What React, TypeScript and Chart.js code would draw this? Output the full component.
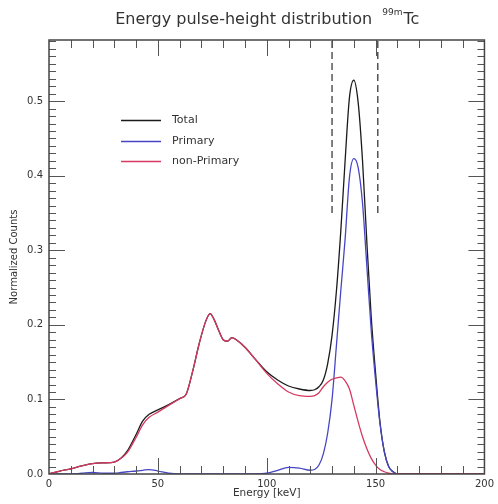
import React, { useEffect, useRef } from "react";
import { Chart, registerables } from "chart.js";

Chart.register(...registerables);

// ---- data ----
const energies = [
  0, 5, 10, 15, 20, 25, 30, 33, 36, 40, 43, 46, 50, 55, 60, 63, 66, 69, 72, 74,
  76, 78, 80, 82, 84, 86, 90, 95, 100, 105, 110, 115, 120, 122, 124, 126, 128,
  130, 132, 134, 136, 138, 140, 142, 144, 146, 148, 150, 152, 154, 156, 158,
  160, 170, 180, 190, 200,
];
const totalCounts = [
  0.0, 0.004, 0.007, 0.011, 0.014, 0.015, 0.016, 0.021, 0.031, 0.053, 0.071,
  0.08, 0.086, 0.093, 0.101, 0.107, 0.138, 0.175, 0.205, 0.215, 0.206, 0.192,
  0.18, 0.178, 0.183, 0.18, 0.17, 0.153, 0.137, 0.126, 0.118, 0.114, 0.112,
  0.113, 0.117, 0.126, 0.148, 0.186, 0.245, 0.325, 0.42, 0.505, 0.528, 0.498,
  0.42, 0.31, 0.21, 0.135, 0.07, 0.03, 0.01, 0.003, 0.0, 0.0, 0.0, 0.0, 0.0,
];
const primaryCounts = [
  0.0, 0.0, 0.0, 0.001, 0.002, 0.001, 0.001, 0.002, 0.003, 0.004, 0.005, 0.006,
  0.004, 0.001, 0.0, 0.0, 0.0, 0.0, 0.0, 0.0, 0.0, 0.0, 0.0, 0.0, 0.0, 0.0,
  0.0, 0.0, 0.001, 0.005, 0.009, 0.008, 0.005, 0.006, 0.012, 0.027, 0.055, 0.1,
  0.172, 0.245, 0.315, 0.398, 0.423, 0.411, 0.363, 0.278, 0.192, 0.125, 0.068,
  0.03, 0.01, 0.003, 0.0, 0.0, 0.0, 0.0, 0.0,
];
const nonPrimaryCounts = [
  0.0, 0.004, 0.007, 0.011, 0.014, 0.015, 0.016, 0.021, 0.029, 0.049, 0.066,
  0.076, 0.083, 0.092, 0.101, 0.107, 0.138, 0.175, 0.205, 0.215, 0.206, 0.192,
  0.18, 0.178, 0.183, 0.18, 0.17, 0.153, 0.135, 0.121, 0.11, 0.105, 0.104,
  0.105, 0.109, 0.117, 0.123, 0.127, 0.129, 0.13, 0.125, 0.114, 0.092, 0.07,
  0.05, 0.034, 0.021, 0.012, 0.006, 0.003, 0.001, 0.0, 0.0, 0.0, 0.0, 0.0, 0.0,
];
const windowEdges = [130, 151];
const windowRange = [0.35, 0.582];
const seriesLabels = ["Total", "Primary", "non-Primary"];
const seriesColors = ["#1a1a1a", "#4646c4", "#d63a62"];
const xRange = [0, 200];
const yRange = [0, 0.582];

const FONT = '"DejaVu Sans", "Bitstream Vera Sans", sans-serif';

const decorPlugin = {
  id: "decor",
  afterDraw(chart: any) {
    const { ctx, chartArea, scales } = chart;
    const { left, right, top, bottom } = chartArea;
    const xs = scales.x;
    const ys = scales.y;
    ctx.save();
    // ticks
    ctx.strokeStyle = "#555";
    ctx.lineWidth = 1;
    ctx.beginPath();
    for (let i = 1; i < 20; i++) {
      const v = i * 10;
      const px = Math.round(xs.getPixelForValue(v)) + 0.5;
      const len = v % 50 === 0 ? 16 : 8;
      ctx.moveTo(px, bottom);
      ctx.lineTo(px, bottom - len);
      ctx.moveTo(px, top);
      ctx.lineTo(px, top + len);
    }
    for (let i = 1; i <= 58; i++) {
      const py = Math.round(ys.getPixelForValue(i / 100)) + 0.5;
      const len = i % 10 === 0 ? 16 : 7;
      ctx.moveTo(left, py);
      ctx.lineTo(left + len, py);
      ctx.moveTo(right, py);
      ctx.lineTo(right - len, py);
    }
    ctx.stroke();
    // frame
    ctx.strokeStyle = "#444";
    ctx.lineWidth = 1.5;
    ctx.strokeRect(left, top, right - left, bottom - top);

    // title with superscript
    const cx = (left + right) / 2;
    const main = "Energy pulse-height distribution";
    const sup = "99m";
    const tail = "Tc";
    const gap = 10;
    ctx.fillStyle = "#333";
    ctx.textBaseline = "alphabetic";
    ctx.textAlign = "left";
    ctx.font = `16px ${FONT}`;
    const wMain = ctx.measureText(main).width;
    const wTail = ctx.measureText(tail).width;
    ctx.font = `9px ${FONT}`;
    const wSup = ctx.measureText(sup).width;
    const x0 = cx - (wMain + gap + wSup + wTail) / 2;
    ctx.font = `16px ${FONT}`;
    ctx.fillText(main, x0, 24);
    ctx.font = `9px ${FONT}`;
    ctx.fillText(sup, x0 + wMain + gap, 15);
    ctx.font = `16px ${FONT}`;
    ctx.fillText(tail, x0 + wMain + gap + wSup + 1, 24);

    // legend
    const ly = [120, 141, 161];
    ctx.font = `11px ${FONT}`;
    ctx.textBaseline = "middle";
    seriesLabels.forEach((lab, i) => {
      ctx.strokeStyle = seriesColors[i];
      ctx.lineWidth = 1.3;
      ctx.beginPath();
      ctx.moveTo(121, ly[i] + 0.5);
      ctx.lineTo(161, ly[i] + 0.5);
      ctx.stroke();
      ctx.fillStyle = "#333";
      ctx.fillText(lab, 172, ly[i]);
    });
    ctx.restore();
  },
};

export default function App() {
  const ref = useRef<HTMLCanvasElement | null>(null);
  useEffect(() => {
    if (!ref.current) return;
    const mk = (vals: number[]) => energies.map((e, i) => ({ x: e, y: vals[i] }));
    const lineDs = (i: number, vals: number[], order: number) => ({
      label: seriesLabels[i],
      data: mk(vals),
      borderColor: seriesColors[i],
      backgroundColor: seriesColors[i],
      borderWidth: 1.3,
      pointRadius: 0,
      cubicInterpolationMode: "monotone",
      fill: false,
      order,
    });
    const chart = new Chart(ref.current, {
      type: "line",
      data: {
        datasets: [
          lineDs(0, totalCounts, 3),
          lineDs(1, primaryCounts, 2),
          lineDs(2, nonPrimaryCounts, 1),
          ...windowEdges.map((e) => ({
            label: "window",
            data: windowRange.map((v) => ({ x: e, y: v })),
            borderColor: "#555",
            borderWidth: 1.5,
            borderDash: [7, 4],
            pointRadius: 0,
            fill: false,
            order: 4,
          })),
        ],
      } as any,
      options: {
        animation: false,
        responsive: false,
        layout: { padding: { top: 40, right: 11, left: 0, bottom: 0 } },
        plugins: { legend: { display: false }, tooltip: { enabled: false }, title: { display: false } },
        scales: {
          x: {
            type: "linear",
            min: xRange[0],
            max: xRange[1],
            grid: { display: false, drawTicks: false },
            border: { display: false },
            ticks: {
              stepSize: 50,
              padding: 4,
              maxRotation: 0,
              color: "#333",
              font: { family: FONT, size: 10 },
            },
            title: {
              display: true,
              text: "Energy [keV]",
              color: "#333",
              font: { family: FONT, size: 10.5 },
              padding: { top: 0, bottom: 4 },
            },
            afterFit: (s: any) => {
              s.height = 30;
            },
          },
          y: {
            type: "linear",
            min: yRange[0],
            max: yRange[1],
            grid: { display: false, drawTicks: false },
            border: { display: false },
            ticks: {
              stepSize: 0.1,
              includeBounds: false,
              padding: 6,
              color: "#333",
              font: { family: FONT, size: 10 },
              callback: (v: any) => Number(v).toFixed(1),
            },
            title: {
              display: true,
              text: "Normalized Counts",
              color: "#333",
              font: { family: FONT, size: 10 },
              padding: { top: 8, bottom: 0 },
            },
            afterFit: (s: any) => {
              s.width = 49;
            },
          },
        },
      } as any,
      plugins: [decorPlugin],
    });
    return () => chart.destroy();
  }, []);
  return (
    <div style={{ position: "absolute", left: 0, top: 0, width: 498, height: 504, background: "#fff" }}>
      <canvas ref={ref} width={498} height={504} style={{ display: "block" }} />
    </div>
  );
}
